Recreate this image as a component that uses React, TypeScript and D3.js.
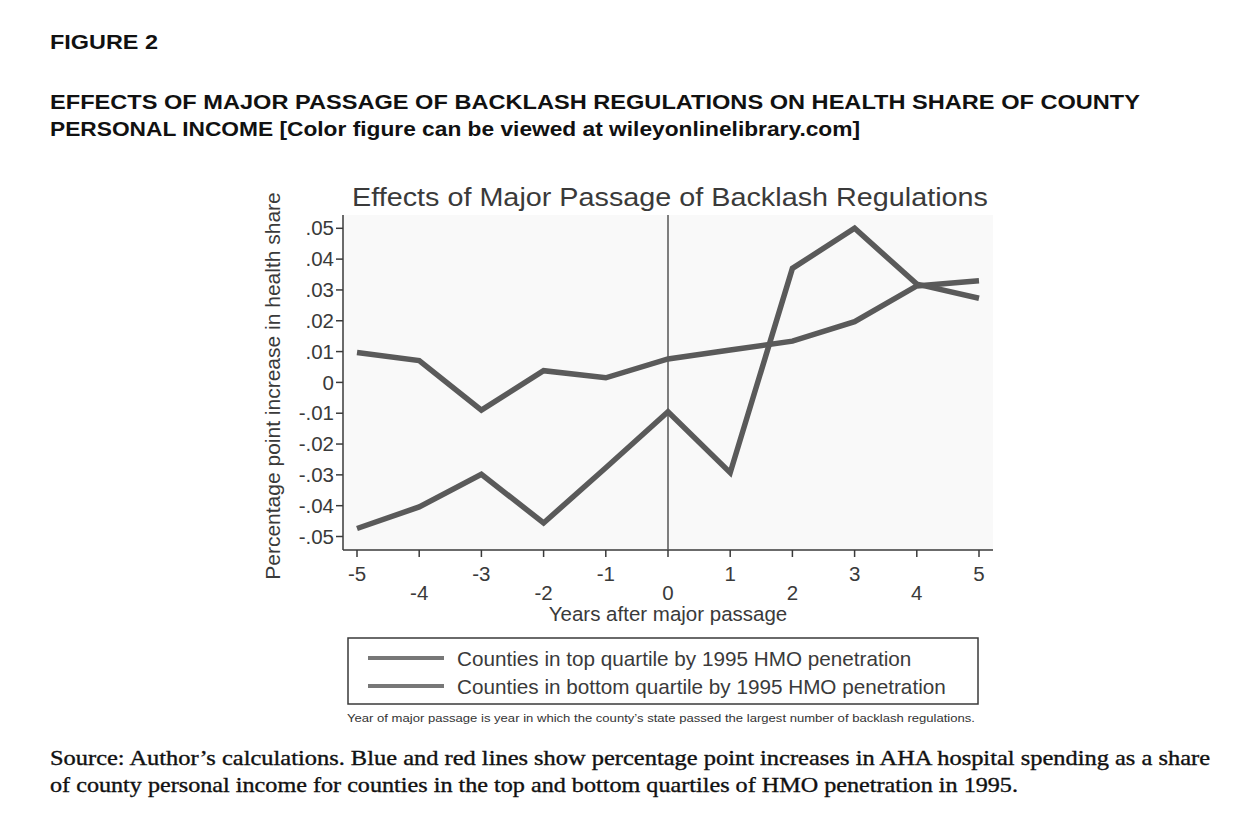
import { useEffect, useRef } from 'react';
import * as d3 from 'd3';

const years = [-5, -4, -3, -2, -1, 0, 1, 2, 3, 4, 5];
const topQuartile = [0.0097, 0.0071, -0.009, 0.0038, 0.0015, 0.0076, 0.0105, 0.0134, 0.0197, 0.0313, 0.033];
const bottomQuartile = [-0.0474, -0.0404, -0.0298, -0.0456, -0.0277, -0.0095, -0.0293, 0.037, 0.05, 0.0319, 0.0273];
const yTicks = [0.05, 0.04, 0.03, 0.02, 0.01, 0, -0.01, -0.02, -0.03, -0.04, -0.05];
const legendLabels = [
  'Counties in top quartile by 1995 HMO penetration',
  'Counties in bottom quartile by 1995 HMO penetration',
];
const headerLines = [
  'EFFECTS OF MAJOR PASSAGE OF BACKLASH REGULATIONS ON HEALTH SHARE OF COUNTY',
  'PERSONAL INCOME [Color figure can be viewed at wileyonlinelibrary.com]',
];
const sourceLines = [
  'Source: Author\u2019s calculations. Blue and red lines show percentage point increases in AHA hospital spending as a share',
  'of county personal income for counties in the top and bottom quartiles of HMO penetration in 1995.',
];

export default function App() {
  const svgRef = useRef<SVGSVGElement>(null);

  useEffect(() => {
    document.body.style.margin = '0';
    if (!svgRef.current) return;
    const svg = d3.select(svgRef.current);
    svg.selectAll('*').remove();

    const sans = 'Liberation Sans, Arial, sans-serif';
    const serif = 'Liberation Serif, Times New Roman, serif';
    const ink = '#3a3a3a';
    const lineColor = '#5a5a5a';

    // header
    svg.append('text').attr('x', 50).attr('y', 49)
      .attr('font-family', sans).attr('font-weight', 'bold').attr('font-size', 20)
      .attr('fill', '#111').attr('textLength', 108).attr('lengthAdjust', 'spacingAndGlyphs')
      .text('FIGURE 2');
    headerLines.forEach((t, i) => {
      svg.append('text').attr('x', 50).attr('y', 109 + i * 27)
        .attr('font-family', sans).attr('font-weight', 'bold').attr('font-size', 20)
        .attr('fill', '#111')
        .attr('textLength', i === 0 ? 1090 : 810).attr('lengthAdjust', 'spacingAndGlyphs')
        .text(t);
    });

    const plot = { left: 343, right: 993, top: 215, bottom: 550 };
    const x = d3.scaleLinear().domain([-5, 5]).range([357, 979]);
    const y = d3.scaleLinear().domain([-0.05, 0.05]).range([536.5, 228.3]);

    svg.append('rect')
      .attr('x', plot.left).attr('y', plot.top)
      .attr('width', plot.right - plot.left).attr('height', plot.bottom - plot.top)
      .attr('fill', '#f9f9f9');

    // chart title
    svg.append('text').attr('x', 670).attr('y', 206)
      .attr('text-anchor', 'middle').attr('font-family', sans).attr('font-size', 25)
      .attr('fill', ink).attr('textLength', 636).attr('lengthAdjust', 'spacingAndGlyphs')
      .text('Effects of Major Passage of Backlash Regulations');

    // y axis
    const fmt = (v: number) =>
      v === 0 ? '0' : d3.format('.2f')(v).replace('0.', '.').replace('\u2212', '-');
    const yAxis = svg.append('g');
    yAxis.append('line').attr('x1', plot.left).attr('x2', plot.left)
      .attr('y1', plot.top).attr('y2', plot.bottom).attr('stroke', ink).attr('stroke-width', 1.5);
    yTicks.forEach((v) => {
      yAxis.append('line').attr('x1', plot.left - 7).attr('x2', plot.left)
        .attr('y1', y(v)).attr('y2', y(v)).attr('stroke', ink).attr('stroke-width', 1.5);
      yAxis.append('text').attr('x', plot.left - 9).attr('y', y(v)).attr('dy', '0.35em')
        .attr('text-anchor', 'end').attr('font-family', sans).attr('font-size', 20.5)
        .attr('fill', ink).text(fmt(v));
    });
    svg.append('text')
      .attr('transform', `translate(280,386) rotate(-90)`)
      .attr('text-anchor', 'middle').attr('font-family', sans).attr('font-size', 21)
      .attr('fill', ink).text('Percentage point increase in health share');

    // x axis
    const xAxis = svg.append('g');
    xAxis.append('line').attr('x1', plot.left).attr('x2', plot.right)
      .attr('y1', plot.bottom).attr('y2', plot.bottom).attr('stroke', ink).attr('stroke-width', 1.5);
    years.forEach((yr, i) => {
      xAxis.append('line').attr('x1', x(yr)).attr('x2', x(yr))
        .attr('y1', plot.bottom).attr('y2', plot.bottom + 7).attr('stroke', ink).attr('stroke-width', 1.5);
      xAxis.append('text').attr('x', x(yr)).attr('y', i % 2 === 0 ? 581 : 600)
        .attr('text-anchor', 'middle').attr('font-family', sans).attr('font-size', 20.5)
        .attr('fill', ink).text(String(yr));
    });
    svg.append('text').attr('x', 668).attr('y', 621)
      .attr('text-anchor', 'middle').attr('font-family', sans).attr('font-size', 20.5)
      .attr('fill', ink).text('Years after major passage');

    // reference line at year 0
    svg.append('line').attr('x1', x(0)).attr('x2', x(0))
      .attr('y1', plot.top).attr('y2', plot.bottom).attr('stroke', '#555').attr('stroke-width', 1.5);

    // series
    const line = d3.line<number>().x((_, i) => x(years[i])).y((d) => y(d));
    [topQuartile, bottomQuartile].forEach((series) => {
      svg.append('path').attr('d', line(series))
        .attr('fill', 'none').attr('stroke', lineColor).attr('stroke-width', 5.5)
        .attr('stroke-linejoin', 'miter');
    });

    // legend
    svg.append('rect').attr('x', 348).attr('y', 638).attr('width', 630).attr('height', 66)
      .attr('fill', '#fff').attr('stroke', ink).attr('stroke-width', 1.5);
    legendLabels.forEach((t, i) => {
      const ly = 658 + i * 28;
      svg.append('line').attr('x1', 368).attr('x2', 444).attr('y1', ly).attr('y2', ly)
        .attr('stroke', '#777').attr('stroke-width', 4);
      svg.append('text').attr('x', 457).attr('y', ly + 8)
        .attr('font-family', sans).attr('font-size', 20.7).attr('fill', ink).text(t);
    });

    // note
    svg.append('text').attr('x', 347).attr('y', 722)
      .attr('font-family', sans).attr('font-size', 10.5).attr('fill', '#333')
      .attr('textLength', 628).attr('lengthAdjust', 'spacingAndGlyphs')
      .text('Year of major passage is year in which the county\u2019s state passed the largest number of backlash regulations.');

    // source
    sourceLines.forEach((t, i) => {
      svg.append('text').attr('x', 50).attr('y', 765 + i * 27)
        .attr('font-family', serif).attr('font-size', 21).attr('fill', '#111')
        .attr('stroke', '#111').attr('stroke-width', 0.35)
        .attr('textLength', i === 0 ? 1160 : 968).attr('lengthAdjust', 'spacingAndGlyphs')
        .text(t);
    });
  }, []);

  return <svg ref={svgRef} width={1256} height={830} style={{ display: 'block', background: '#fff' }} />;
}
